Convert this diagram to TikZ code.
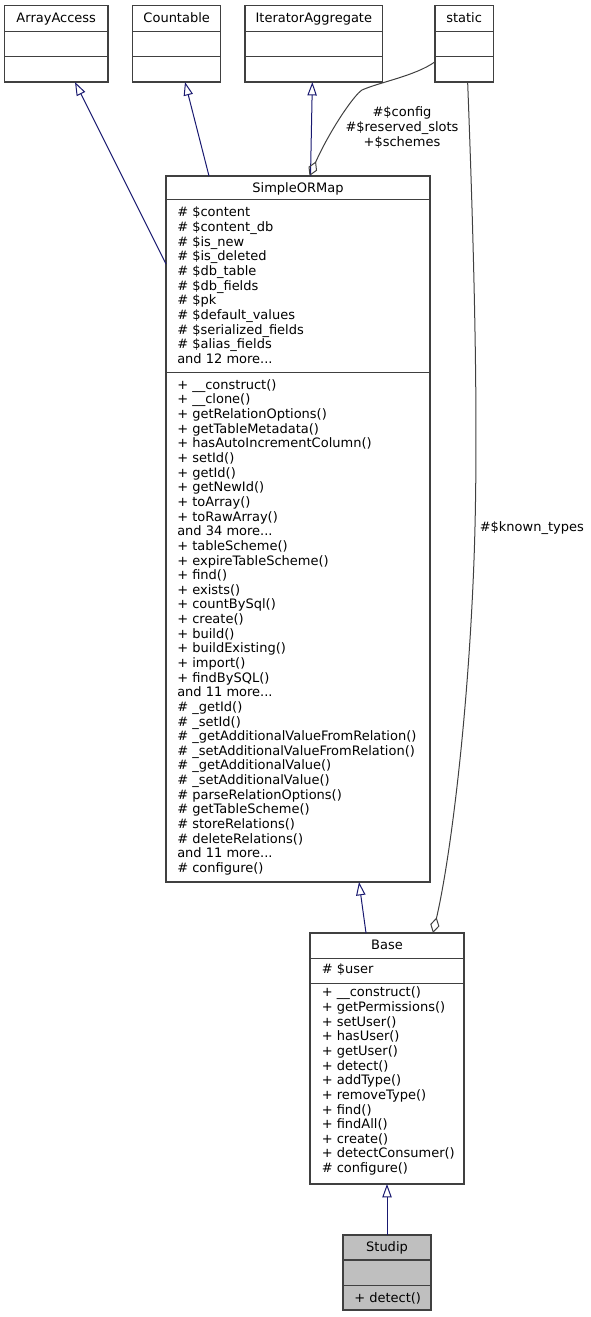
\documentclass[tikz,border=0pt]{standalone}
\usepackage{fontspec}
\setmainfont{DejaVu Sans}
\usetikzlibrary{arrows.meta,calc}
\definecolor{edgeblue}{HTML}{191970}
\definecolor{boxline}{HTML}{404040}
\definecolor{boxgray}{HTML}{BFBFBF}
\begin{document}
\begin{tikzpicture}[x=0.75pt,y=-0.75pt,
  font=\fontsize{9.75pt}{10.98pt}\selectfont,
  umlbox/.style 2 args={draw=boxline, line width=1pt, inner sep=0pt, outer sep=0pt,
     anchor=north west, fill=white, minimum width=#1*0.75pt, minimum height=#2*0.75pt},
  divline/.style={draw=boxline, line width=1pt},
  ttl/.style={anchor=base, inner sep=0pt},
  sectext/.style={anchor=north west, inner sep=0pt, align=left},
  inh/.style={draw=edgeblue, line width=0.75pt, -{Triangle[open, length=10pt, width=7pt]}},
  agg/.style={draw=boxline, line width=0.75pt, -{Diamond[open, length=12pt, width=7pt]}},
  elbl/.style={inner sep=0pt}
]
\useasboundingbox (0,0) rectangle (590,1317);

% ---- top boxes ----
\node[umlbox={103.5}{76.5}] (AA) at (4.5,5.6) {};
\node[umlbox={88}{76.5}] (CT) at (132.7,5.6) {};
\node[umlbox={137.7}{76.5}] (IA) at (245,5.6) {};
\node[umlbox={58.3}{76.5}] (ST) at (435,5.6) {};
\foreach \b/\t in {AA/ArrayAccess, CT/Countable, IA/IteratorAggregate, ST/static}{
  \node[ttl] (\b-title) at ($(\b.north)+(0,16.4)$) {\t};
  \draw[divline] ($(\b.north west)+(0,25.7)$) -- ($(\b.north east)+(0,25.7)$);
  \draw[divline] ($(\b.north west)+(0,51)$) -- ($(\b.north east)+(0,51)$);
}

% ---- SimpleORMap ----
\node[umlbox={264}{706}] (SM) at (166,176) {};
\node[ttl] (SM-title) at ($(SM.north)+(0,16.3)$) {SimpleORMap};
\draw[divline] ($(SM.north west)+(0,23.5)$) -- ($(SM.north east)+(0,23.5)$);
\draw[divline] ($(SM.north west)+(0,196.7)$) -- ($(SM.north east)+(0,196.7)$);
\node[sectext] (SM-attr) at (177,206.0) {\rule{0pt}{8pt}\# \$content\\
\# \$content\_db\\
\# \$is\_new\\
\# \$is\_deleted\\
\# \$db\_table\\
\# \$db\_fields\\
\# \$pk\\
\# \$default\_values\\
\# \$serialized\_fields\\
\# \$alias\_fields\\
and 12 more...};
\node[sectext] (SM-meth) at (177,378.4) {\rule{0pt}{8pt}+ \_\_construct()\\
+ \_\_clone()\\
+ getRelationOptions()\\
+ getTableMetadata()\\
+ hasAutoIncrementColumn()\\
+ setId()\\
+ getId()\\
+ getNewId()\\
+ toArray()\\
+ toRawArray()\\
and 34 more...\\
+ tableScheme()\\
+ expireTableScheme()\\
+ find()\\
+ exists()\\
+ countBySql()\\
+ create()\\
+ build()\\
+ buildExisting()\\
+ import()\\
+ findBySQL()\\
and 11 more...\\
\# \_getId()\\
\# \_setId()\\
\# \_getAdditionalValueFromRelation()\\
\# \_setAdditionalValueFromRelation()\\
\# \_getAdditionalValue()\\
\# \_setAdditionalValue()\\
\# parseRelationOptions()\\
\# getTableScheme()\\
\# storeRelations()\\
\# deleteRelations()\\
and 11 more...\\
\# configure()};

% ---- Base ----
\node[umlbox={154}{251}] (BS) at (310,933) {};
\node[ttl] (BS-title) at ($(BS.north)+(0,16.3)$) {Base};
\draw[divline] ($(BS.north west)+(0,25.3)$) -- ($(BS.north east)+(0,25.3)$);
\draw[divline] ($(BS.north west)+(0,50.3)$) -- ($(BS.north east)+(0,50.3)$);
\node[sectext] (BS-attr) at (321.5,962.6) {\rule{0pt}{8pt}\# \$user};
\node[sectext] (BS-meth) at (321.5,986.0) {\rule{0pt}{8pt}+ \_\_construct()\\
+ getPermissions()\\
+ setUser()\\
+ hasUser()\\
+ getUser()\\
+ detect()\\
+ addType()\\
+ removeType()\\
+ find()\\
+ findAll()\\
+ create()\\
+ detectConsumer()\\
\# configure()};

% ---- Studip ----
\node[umlbox={88}{75}, fill=boxgray] (SD) at (343,1235) {};
\node[ttl] (SD-title) at ($(SD.north)+(0,16.3)$) {Studip};
\draw[divline] ($(SD.north west)+(0,25)$) -- ($(SD.north east)+(0,25)$);
\draw[divline] ($(SD.north west)+(0,50.7)$) -- ($(SD.north east)+(0,50.7)$);
\node[sectext] (SD-meth) at (354,1291.3) {\rule{0pt}{8pt}+ detect()};

% ---- inheritance edges ----
\draw[inh] ($(SM.north west)+(0,88)$) -- ($(AA.south)+(18.75,0)$);
\draw[inh] ($(SM.north west)+(43,0)$) -- ($(CT.south)+(8.3,0)$);
\draw[inh] ($(SM.north west)+(144.5,0)$) -- ($(IA.south)+(-1.5,0)$);
\draw[inh] ($(BS.north)+(-21,0)$) -- ($(SM.south west)+(193,0)$);
\draw[inh] (SD.north) -- (BS.south);

% ---- aggregation edges ----
\draw[agg] ($(ST.south west)+(0,-20.3)$) .. controls (415,76) and (380,82) .. (362,90)
   .. controls (354,95) and (330,130) .. ($(SM.north west)+(143.5,0)$);
\node[elbl, anchor=north, align=center] (SM-lbl) at (402,106) {\rule{0pt}{8pt}\#\$config\\
\#\$reserved\_slots\\
+\$schemes};

\draw[agg] ($(ST.south)+(3.5,0)$) .. controls (476,300) and (478,450) .. (474,560)
   .. controls (468,720) and (450,860) .. ($(BS.north)+(46,0)$);
\node[elbl, anchor=base west] (BS-lbl) at (479.5,531) {\#\$known\_types};
\end{tikzpicture}
\end{document}
